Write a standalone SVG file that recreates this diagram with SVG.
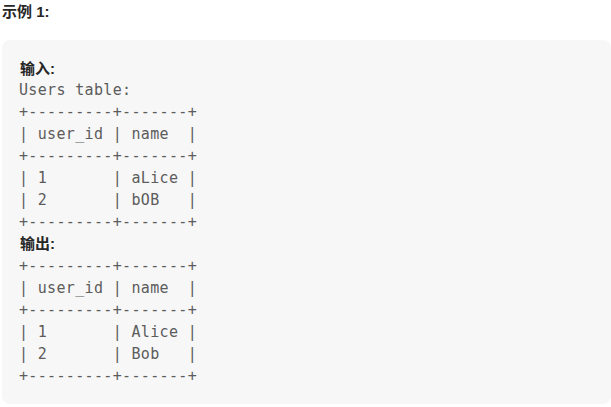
<svg xmlns="http://www.w3.org/2000/svg" width="611" height="407" viewBox="0 0 611 407">
<style>
.h{font-family:"Liberation Sans","Noto Sans CJK SC",sans-serif;font-weight:bold;font-size:15px;fill:#262626}
.m{font-family:"DejaVu Sans Mono",monospace;font-size:15px;letter-spacing:0.34px;fill:#5c5c5c;white-space:pre}
</style>
<rect width="611" height="407" fill="#ffffff"/>
<text class="h" x="2" y="17">示例 1:</text>
<g id="example-box">
<rect x="2" y="40" width="609" height="364" rx="8" fill="#f7f7f7"/>
<text class="h" x="20" y="74">输入:</text>
<text class="m" xml:space="preserve" x="19" y="95">Users table:</text>
<text class="m" xml:space="preserve" x="19" y="117">+---------+-------+</text>
<text class="m" xml:space="preserve" x="19" y="139">| user_id | name  |</text>
<text class="m" xml:space="preserve" x="19" y="161">+---------+-------+</text>
<text class="m" xml:space="preserve" x="19" y="183">| 1       | aLice |</text>
<text class="m" xml:space="preserve" x="19" y="205">| 2       | bOB   |</text>
<text class="m" xml:space="preserve" x="19" y="227">+---------+-------+</text>
<text class="h" x="20" y="249">输出:</text>
<text class="m" xml:space="preserve" x="19" y="271">+---------+-------+</text>
<text class="m" xml:space="preserve" x="19" y="293">| user_id | name  |</text>
<text class="m" xml:space="preserve" x="19" y="315">+---------+-------+</text>
<text class="m" xml:space="preserve" x="19" y="337">| 1       | Alice |</text>
<text class="m" xml:space="preserve" x="19" y="359">| 2       | Bob   |</text>
<text class="m" xml:space="preserve" x="19" y="381">+---------+-------+</text>
</g>
</svg>
